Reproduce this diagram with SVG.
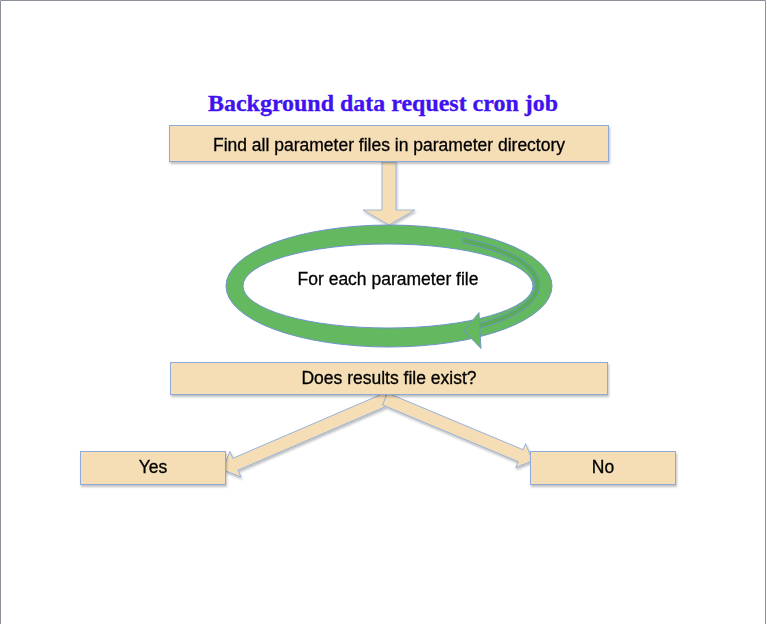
<svg xmlns="http://www.w3.org/2000/svg" width="767" height="624" viewBox="0 0 767 624">
<style>
.box{fill:#F5DEB6;stroke:#8EAADB;stroke-width:1}
.lbl{font-family:"Liberation Sans",Arial,sans-serif;font-size:17.5px;fill:#000;stroke:#000;stroke-width:0.3;text-anchor:middle}
.arr{fill:#F5DEB6;stroke:#8EAADB;stroke-width:0.8}
.ring{fill:#63B860;stroke:#7093CC;stroke-width:1}
</style>
<defs>
<filter id="sh" x="-10%" y="-20%" width="120%" height="150%">
<feDropShadow dx="1" dy="2" stdDeviation="1.2" flood-color="#000" flood-opacity="0.25"/>
</filter>
</defs>
<rect x="0" y="0" width="767" height="624" fill="#fff"/>
<path d="M0.5,624 V0.5 H765.5 V624" fill="none" stroke="#8C9199" stroke-width="1"/>
<text id="title" x="383" y="111" font-family="'Liberation Serif',Cambria,serif" font-weight="bold" font-size="23" fill="#4012F0" stroke="#4012F0" stroke-width="0.3" text-anchor="middle" textLength="350" lengthAdjust="spacingAndGlyphs">Background data request cron job</text>
<g id="connectors" filter="url(#sh)">
<polygon class="arr" points="382,162 396,162 396,210 415,210 389,225 363,210 382,210"/>
<polygon class="arr" transform="translate(387,399) rotate(156.7)" points="0,-6.5 165,-6.5 165,-14 179,0 165,14 165,6.5 0,6.5"/>
<polygon class="arr" transform="translate(385,399) rotate(22.7)" points="0,-6.5 147,-6.5 147,-13 160,0 147,13 147,6.5 0,6.5"/>
</g>
<g id="find" filter="url(#sh)">
<rect class="box" x="169.5" y="125.5" width="439" height="36"/>
<text class="lbl" x="389" y="151">Find all parameter files in parameter directory</text>
</g>
<g id="loop">
<path class="ring" fill-rule="evenodd" d="M226,286 A163,61 0 1 0 552,286 A163,61 0 1 0 226,286 Z M243,286 A145,42 0 1 1 533,286 A145,42 0 1 1 243,286 Z"/>
<path d="M463,238 A151,54 0 0 1 479,328.4 L478,323.6 A146,48.7 0 0 0 463,243 Z" fill="#58AC56" stroke="#7093CC" stroke-width="0.9"/>
<polygon points="464,331 479,312.5 481,348.5" fill="#63B860" stroke="#7093CC" stroke-width="0.9"/>
<text class="lbl" x="388" y="285">For each parameter file</text>
</g>
<g id="exists" filter="url(#sh)">
<rect class="box" x="170.5" y="362.5" width="437" height="32"/>
<text class="lbl" x="389" y="384">Does results file exist?</text>
</g>
<g id="yes" filter="url(#sh)">
<rect class="box" x="80.5" y="451.5" width="145" height="33"/>
<text class="lbl" x="153" y="473">Yes</text>
</g>
<g id="no" filter="url(#sh)">
<rect class="box" x="530.5" y="451.5" width="145" height="33"/>
<text class="lbl" x="603" y="473">No</text>
</g>
</svg>
